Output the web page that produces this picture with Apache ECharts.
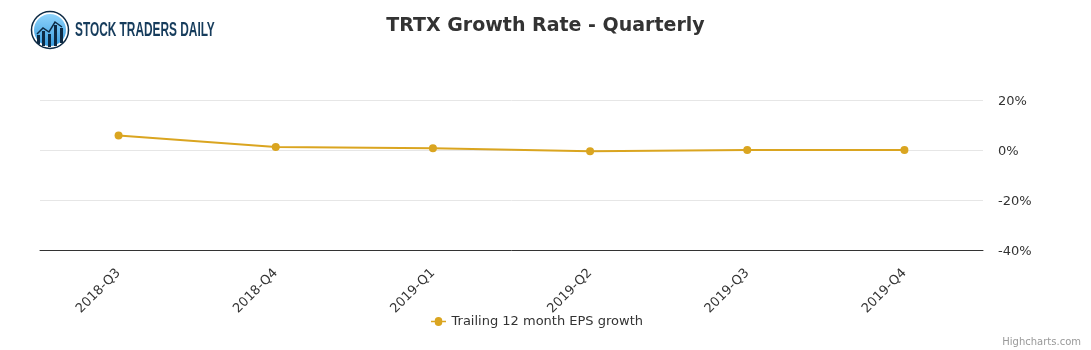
<!DOCTYPE html>
<html><head><meta charset="utf-8">
<script src="https://cdn.jsdelivr.net/npm/echarts@6/dist/echarts.min.js"></script>
<style>html,body{margin:0;padding:0;background:#fff}#c{width:1091px;height:350px}</style>
</head><body><div id="c"></div>
<script>
const categories = ['2018-Q3','2018-Q4','2019-Q1','2019-Q2','2019-Q3','2019-Q4'];
const epsGrowth = [5.8, 1.2, 0.7, -0.5, 0, 0];
const yTicks = [-40, -20, 0, 20];

const chart = echarts.init(document.getElementById('c'));
chart.setOption({
  animation: false,
  title: {
    text: 'TRTX Growth Rate - Quarterly', left: 'center', top: 12,
    textStyle: { fontFamily: 'DejaVu Sans', fontSize: 19, fontWeight: 'bold', color: '#333' }
  },
  graphic: [
    { type: 'circle', shape: { cx: 50, cy: 30, r: 18.5 }, style: { fill: '#fff', stroke: '#0d2a44', lineWidth: 1.5 } },
    { type: 'circle', shape: { cx: 50, cy: 30, r: 16 }, style: {
        fill: new echarts.graphic.LinearGradient(0, 0, 0, 1, [{offset:0,color:'#8fd3fb'},{offset:1,color:'#3a9ee0'}]) } },
    { type: 'rect', shape: { x: 37, y: 35, width: 3, height: 9 }, style: { fill: '#0d2a44' } },
    { type: 'rect', shape: { x: 42, y: 31, width: 3, height: 15 }, style: { fill: '#0d2a44' } },
    { type: 'rect', shape: { x: 48, y: 34, width: 3, height: 13 }, style: { fill: '#0d2a44' } },
    { type: 'rect', shape: { x: 54, y: 25, width: 3, height: 21 }, style: { fill: '#0d2a44' } },
    { type: 'rect', shape: { x: 60, y: 28, width: 3, height: 15 }, style: { fill: '#0d2a44' } },
    { type: 'polyline', shape: { points: [[37,34],[43,28],[49,32],[55,22],[62,27]] }, style: { stroke: '#0d2a44', lineWidth: 1.5, fill: null } },
    { type: 'text', x: 75, y: 20, scaleX: 0.565, style: { text: 'STOCK TRADERS DAILY', fill: '#163c5c',
        font: 'bold 21px "Liberation Sans", sans-serif' } },
    { type: 'text', right: 10, bottom: 3, style: { text: 'Highcharts.com', fill: '#999',
        font: '10px "DejaVu Sans", sans-serif' } }
  ],
  grid: { left: 40, right: 108, top: 100, bottom: 100, containLabel: false },
  legend: {
    bottom: 17, left: 426, icon: 'path://M0,4L5,4A5,5 0 1 1 15,4L20,4L20,6L15,6A5,5 0 1 1 5,6L0,6Z',
    itemWidth: 16, itemHeight: 9, itemGap: 6,
    textStyle: { fontFamily: 'DejaVu Sans', fontSize: 13, color: '#333' }
  },
  xAxis: {
    type: 'category', data: categories, boundaryGap: true,
    axisLine: { onZero: false, lineStyle: { color: '#333' } },
    axisTick: { show: false },
    axisLabel: { rotate: 45, margin: 21, fontFamily: 'DejaVu Sans', fontSize: 13, color: '#333' }
  },
  yAxis: {
    type: 'value', position: 'right', min: yTicks[0], max: yTicks[yTicks.length-1], interval: 20,
    axisLine: { show: false }, axisTick: { show: false },
    splitLine: { lineStyle: { color: '#e6e6e6' } },
    axisLabel: { margin: 15, formatter: v => '{a|' + v + '%}',
      rich: { a: { padding: [3,0,0,0], fontFamily: 'DejaVu Sans', fontSize: 13, color: '#333' } } }
  },
  series: [{
    name: 'Trailing 12 month EPS growth', type: 'line', data: epsGrowth,
    symbol: 'circle', symbolSize: 8,
    itemStyle: { color: '#DAA520' }, lineStyle: { color: '#DAA520', width: 2 }
  }]
});
</script></body></html>
